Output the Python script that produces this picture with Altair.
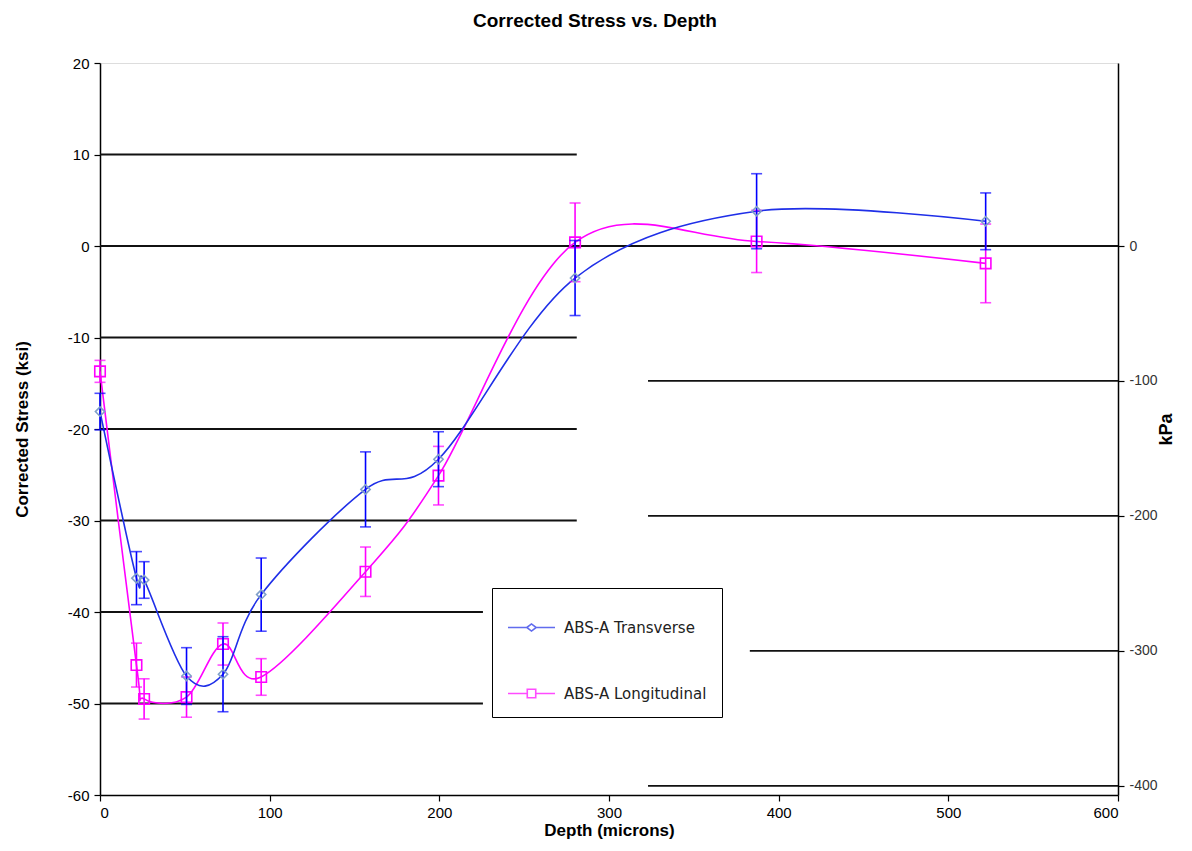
import altair as alt
import pandas as pd

# ---- data ----
depth = [0, 21.5, 26, 51, 72.5, 95, 156.5, 199.5, 280, 387, 522]
series_names = ["ABS-A Transverse", "ABS-A Longitudinal"]
stress_T = [-18.1, -36.3, -36.5, -47.0, -46.8, -38.1, -26.6, -23.3, -3.5, 3.8, 2.7]
err_T = [2.0, 2.9, 2.0, 3.1, 4.1, 4.0, 4.1, 3.0, 4.1, 4.1, 3.1]
stress_L = [-13.7, -45.8, -49.5, -49.3, -43.5, -47.1, -35.6, -25.1, 0.4, 0.5, -1.9]
err_L = [1.2, 2.4, 2.2, 2.2, 2.3, 2.0, 2.7, 3.2, 4.3, 3.4, 4.3]

# horizontal guide lines (left axis, ksi) and their depth extents
grid_ksi = [10, 0, -10, -20, -30, -40, -50]
grid_ksi_from = [0, 0, 0, 0, 0, 0, 0]
grid_ksi_to = [281, 600, 281, 281, 281, 225.7, 225.7]
# horizontal guide lines (right axis, kPa)
grid_kpa = [-100, -200, -300, -400]
grid_kpa_from = [323, 323, 383, 323]
grid_kpa_to = [600, 600, 600, 600]
kpa_ticks = [0, -100, -200, -300, -400]

BLUE = "#1f2fe8"
BLUE_ERR = "#0000ff"
BLUE_MARK = "#7f9fc8"
PINK = "#ff00ff"
NARROW = "Liberation Sans Narrow, Arial Narrow, Liberation Sans, Arial"
SANS = "Liberation Sans, Arial"

rows = []
for name, ys, es in [(series_names[0], stress_T, err_T), (series_names[1], stress_L, err_L)]:
    for d, y, e in zip(depth, ys, es):
        rows.append({"series": name, "depth": d, "stress": y, "lo": y - e, "hi": y + e})
df = pd.DataFrame(rows)

gk = pd.DataFrame({"y": grid_ksi, "x1": grid_ksi_from, "x2": grid_ksi_to})
gp = pd.DataFrame({"y": grid_kpa, "x1": grid_kpa_from, "x2": grid_kpa_to})

x_scale = alt.Scale(domain=[0, 600], nice=False, zero=False)
x_axis = alt.Axis(title="Depth (microns)", values=[0, 100, 200, 300, 400, 500, 600],
                  grid=False, domainColor="black", domainWidth=1.5, tickColor="black",
                  tickSize=6, tickWidth=1.2, labelFont=NARROW, labelFontSize=15,
                  labelColor="black", labelPadding=4, labelExpr="'' + datum.value",
                  titleFont=NARROW, titleFontSize=17,
                  titleFontWeight="bold", titleColor="black", titlePadding=2)
y_scale = alt.Scale(domain=[-60, 20], nice=False, zero=False)
y_axis = alt.Axis(title="Corrected Stress (ksi)", values=list(range(-60, 21, 10)),
                  grid=False, domainColor="black", domainWidth=1.5, tickColor="black",
                  tickSize=6, tickWidth=1.2, labelFont=NARROW, labelFontSize=15,
                  labelColor="black", labelPadding=5, labelExpr="'' + datum.value",
                  titleFont=NARROW, titleFontSize=17,
                  titleFontWeight="bold", titleColor="black", titlePadding=36)

X = alt.X("depth:Q", scale=x_scale, axis=x_axis)

def Y(field):
    return alt.Y(field, type="quantitative", scale=y_scale, axis=y_axis)

grid_left = alt.Chart(gk).mark_rule(color="#111", strokeWidth=1.8).encode(
    x=alt.X("x1:Q", scale=x_scale, axis=x_axis), x2="x2:Q", y=Y("y"))

layers = [grid_left]
styles = {series_names[0]: (BLUE, BLUE_ERR, BLUE_MARK, "diamond", 85),
          series_names[1]: (PINK, PINK, PINK, "square", 110)}
for name in series_names[::-1]:
    lc, ec, mc, shp, sz = styles[name]
    base = alt.Chart(df).transform_filter(alt.datum.series == name)
    layers.append(base.mark_line(color=lc, strokeWidth=1.6, interpolate="cardinal", tension=0)
                  .encode(x=X, y=Y("stress")))
for name in series_names[::-1]:
    lc, ec, mc, shp, sz = styles[name]
    base = alt.Chart(df).transform_filter(alt.datum.series == name)
    layers.append(base.mark_rule(color=ec, strokeWidth=1.6).encode(x=X, y=Y("lo"), y2="hi"))
    layers.append(base.mark_tick(color=ec, orient="horizontal", size=11, thickness=1.6)
                  .encode(x=X, y=Y("lo")))
    layers.append(base.mark_tick(color=ec, orient="horizontal", size=11, thickness=1.6)
                  .encode(x=X, y=Y("hi")))
    layers.append(base.mark_point(shape=shp, filled=False, color=mc, size=sz, strokeWidth=1.6, opacity=1)
                  .encode(x=X, y=Y("stress")))

pathT = "M-1,0H-0.2M0.2,0H1M-0.2,0L0,-0.15L0.2,0L0,0.15Z"
pathL = "M-1,0H-0.18M0.18,0H1M-0.18,-0.18H0.18V0.18H-0.18Z"
leg = alt.Legend(title=None, orient="none", legendX=392, legendY=525, padding=15,
                 rowPadding=33, labelOffset=8, symbolSize=2209, symbolStrokeWidth=1.6,
                 labelFont="DejaVu Sans, Liberation Sans", labelFontSize=15, labelColor="#222",
                 strokeColor="black", fillColor="white", labelLimit=400)
legend_layer = alt.Chart(df).transform_filter("datum.depth < 0").mark_point(filled=False).encode(
    x=X, y=Y("stress"),
    color=alt.Color("series:N", scale=alt.Scale(domain=series_names, range=[BLUE, PINK]), legend=leg),
    shape=alt.Shape("series:N", scale=alt.Scale(domain=series_names, range=[pathT, pathL]), legend=leg),
)
layers.append(legend_layer)

ksi = alt.layer(*layers)

kpa_axis = alt.Axis(title="kPa", orient="right", values=kpa_ticks, grid=False,
                    domainColor="black", domainWidth=1.5, tickColor="black", tickSize=6,
                    tickWidth=1.2, labelFont=SANS, labelFontSize=14, labelColor="#333",
                    labelPadding=5, labelExpr="'' + datum.value",
                    titleFont=SANS, titleFontSize=18, titleFontWeight="bold",
                    titleColor="black", titleAngle=270, titlePadding=18)
kpa = alt.Chart(gp).mark_rule(color="#111", strokeWidth=1.8).encode(
    x=alt.X("x1:Q", scale=x_scale, axis=x_axis), x2="x2:Q",
    y=alt.Y("y:Q", scale=alt.Scale(domain=[-406.8, 135.6], nice=False, zero=False), axis=kpa_axis))

chart = alt.layer(ksi, kpa).resolve_scale(y="independent").properties(
    width=1018, height=732,
    title=alt.TitleParams("Corrected Stress vs. Depth", font=NARROW, fontSize=19,
                          fontWeight="bold", color="black", offset=25, dx=-14),
    autosize=alt.AutoSizeParams(type="none"),
    padding={"left": 92, "top": 55, "right": 66, "bottom": 54},
).configure_view(stroke=None).configure(background="white")

chart.save("out.html", embed_options={"renderer": "svg", "actions": False})
